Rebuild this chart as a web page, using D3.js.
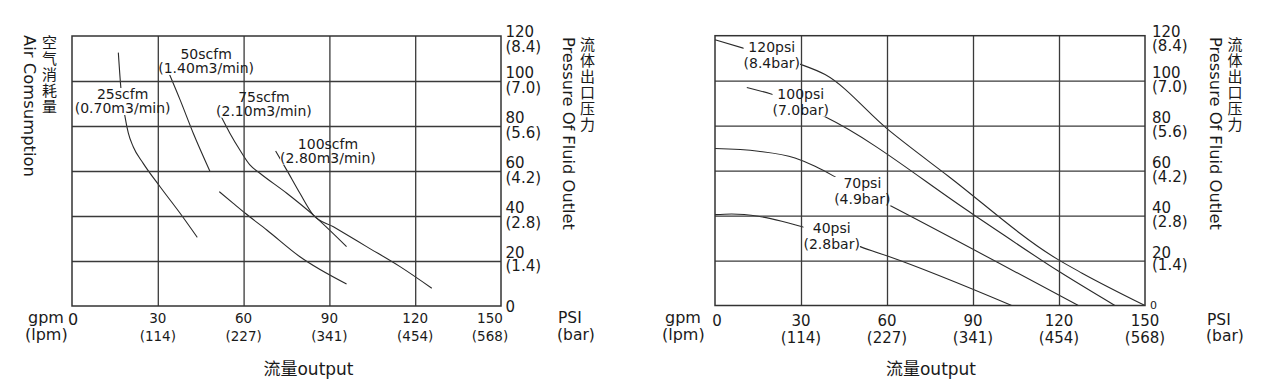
<!DOCTYPE html>
<html><head><meta charset="utf-8">
<script src="https://cdn.jsdelivr.net/npm/d3@7"></script>
<style>body{margin:0;background:#fff}svg{display:block}</style>
</head><body>
<svg id="c" width="1272" height="383"></svg>
<script>
// ---------- data ----------
const flowTicks = [0, 30, 60, 90, 120, 150];
const flowTickLpm = ["", "(114)", "(227)", "(341)", "(454)", "(568)"];
const pressureTicks = [0, 20, 40, 60, 80, 100, 120];
const pressureTickBar = ["", "(1.4)", "(2.8)", "(4.2)", "(5.6)", "(7.0)", "(8.4)"];

// Left chart: air consumption curves, [flow gpm, pressure psi]
const air25scfm = [[16.2,112.6],[17.1,96.8],[18.5,84.4],[19.7,76.8],[21.4,70.8],[24.9,63.4],[30.8,53.0],[37.8,41.2],[43.8,30.5]];
const air50scfm = [[33.7,104.1],[37.8,91.6],[42.4,76.8],[48.3,59.7]];
const air50scfmLower = [[51.5,50.8],[56.4,45.6],[60.6,41.2],[68.1,33.8],[79.7,21.9],[96.0,9.8]];
const air75scfm = [[51.7,85.3],[55.2,76.8],[58.7,69.3],[62.2,62.7],[65.7,59.0],[75.1,50.1],[84.4,40.4],[96.0,26.4]];
const air100scfm = [[71.2,68.9],[75.1,60.4],[79.7,50.1],[84.4,40.4],[91.4,35.2],[103.0,26.4],[114.7,17.5],[125.8,7.9]];
const airLabelMain = ["25scfm", "50scfm", "75scfm", "100scfm"];
const airLabelSub = ["(0.70m3/min)", "(1.40m3/min)", "(2.10m3/min)", "(2.80m3/min)"];
const airLabelAt = [[17.7,92.0],[46.9,109.8],[67.1,90.8],[89.5,69.8]];

// Right chart: air inlet pressure curves, [flow gpm, pressure psi]
const psi120 = [[0,118.2],[11.6,113.8],[29.1,107.6],[38.4,102.7],[60.4,78.2],[81.4,57.5],[119.7,20.4],[127.9,14.5],[150,0]];
const psi100 = [[11.1,97.0],[22.1,93.0],[38.4,83.9],[90.2,40.4],[119.9,15.2],[139.5,0]];
const psi70 = [[0,69.8],[15.1,68.6],[27.9,65.6],[34.9,61.9],[44.8,55.2],[60.4,44.9],[126.7,0]];
const psi40 = [[0,40.4],[5.8,40.7],[15.1,39.7],[23.3,37.5],[33.7,33.8],[50.0,26.4],[60.4,21.9],[103.5,0]];
const psiLabelMain = ["120psi", "100psi", "70psi", "40psi"];
const psiLabelSub = ["(8.4bar)", "(7.0bar)", "(4.9bar)", "(2.8bar)"];
const psiLabelAt = [[19.8,112.8],[29.9,92.0],[51.4,52.3],[40.7,32.3]];

const flowTitle = "流量output";
const airTitleEn = "Air Comsumption", airTitleZh = "空气消耗量";
const presTitleEn = "Pressure Of Fluid Outlet", presTitleZh = "流体出口压力";

// ---------- drawing ----------
const svg = d3.select("#c");
const FONT = "'DejaVu Sans', 'Noto Sans CJK SC', sans-serif";
const CJK = "'Noto Sans CJK SC', sans-serif";
const INK = "#1a1a1a";

function twoLine(parent, px, py, gap, a, b, size, anchor, dx2) {
  const t = parent.append("text").attr("font-family", FONT).attr("font-size", size)
    .attr("fill", INK).attr("text-anchor", anchor || "start");
  t.append("tspan").attr("x", px).attr("y", py).text(a);
  if (b) t.append("tspan").attr("x", px + (dx2 || 0)).attr("y", py + gap).text(b);
  return t;
}

function drawChart(opt) {
  const x = d3.scaleLinear().domain([0, 150]).range(opt.xr);
  const y = d3.scaleLinear().domain([0, 120]).range(opt.yr);
  const g = svg.append("g");
  const line = d3.line().x(d => x(d[0])).y(d => y(d[1])).curve(d3.curveMonotoneX);

  const curveG = g.append("g");
  opt.curves.forEach(c => {
    curveG.append("path").attr("d", line(c)).attr("fill", "none")
      .attr("stroke", "#2a2a2a").attr("stroke-width", 1.1);
  });

  const bgG = g.append("g");
  const gridG = g.append("g");
  const labG = g.append("g");
  opt.labelMain.forEach((t, i) => {
    const [lx, ly] = opt.labelAt[i];
    const tx = twoLine(labG, x(lx), y(ly), opt.labelGap, t, opt.labelSub[i], opt.labelSize, "middle");
    const bb = tx.node().getBBox();
    bgG.append("rect").attr("x", bb.x).attr("y", bb.y + 2).attr("width", bb.width)
      .attr("height", bb.height - 3).attr("fill", "#fff");
  });

  const h = opt.yr[0] - opt.yr[1], w = opt.xr[1] - opt.xr[0];
  const gx = gridG.append("g").attr("transform", `translate(0,${opt.yr[0]})`)
    .call(d3.axisBottom(x).tickValues(flowTicks.slice(1, -1)).tickSize(-h).tickFormat(""));
  const gy = gridG.append("g").attr("transform", `translate(${opt.xr[0]},0)`)
    .call(d3.axisLeft(y).tickValues(pressureTicks.slice(1, -1)).tickSize(-w).tickFormat(""));
  [gx, gy].forEach(a => {
    a.select(".domain").remove();
    a.selectAll("line").attr("stroke", "#3a3a3a").attr("stroke-width", 1.3);
  });
  gridG.append("rect").attr("x", opt.xr[0]).attr("y", opt.yr[1]).attr("width", w).attr("height", h)
    .attr("fill", "none").attr("stroke", "#333").attr("stroke-width", 1.5);

  // bottom tick labels
  flowTicks.forEach((v, i) => {
    if (v === 0) {
      g.append("text").attr("x", x(0) + opt.zeroDx).attr("y", opt.zeroBaseline)
        .attr("font-family", FONT).attr("font-size", opt.zeroSize).attr("fill", INK)
        .attr("text-anchor", "middle").text("0");
      return;
    }
    const cx = x(v) + (v === 150 ? opt.lastShift : 0);
    twoLine(g, cx, opt.tickBase, opt.tickGap, String(v), flowTickLpm[i], opt.tickSize, "middle");
  });

  // right tick labels
  pressureTicks.forEach((v, i) => {
    const ax = x(150) + opt.rightDx;
    if (v === 0) {
      g.append("text").attr("x", ax + opt.rzDx).attr("y", opt.rzBase).attr("font-family", FONT)
        .attr("font-size", opt.rzSize).attr("fill", INK).text("0");
      return;
    }
    const base = y(v) + (v === 120 ? 1 : -3);
    twoLine(g, ax, base, v === 20 ? 12.5 : 14.5, String(v), pressureTickBar[i], 15);
  });

  // unit captions
  twoLine(g, opt.gpm[0], opt.gpm[1], opt.gpm[2], "gpm", "(lpm)", 16, "start", -3);
  twoLine(g, opt.psi[0], opt.psi[1], opt.psi[2], "PSI", "(bar)", 15.5, "start", -1);

  g.append("text").attr("x", opt.titleX).attr("y", 375).attr("text-anchor", "middle")
    .attr("font-family", FONT).attr("font-size", 17).attr("fill", INK).text(flowTitle);

  const vEn = (tx, px, py, len) => g.append("text")
    .attr("transform", `translate(${px},${py}) rotate(90)`)
    .attr("font-family", FONT).attr("font-size", 16).attr("fill", INK)
    .attr("textLength", len).attr("lengthAdjust", "spacingAndGlyphs").text(tx);
  const vZh = (tx, cx, top) => g.append("text").attr("x", cx).attr("y", top)
    .style("writing-mode", "vertical-rl").style("text-orientation", "upright")
    .attr("letter-spacing", 1)
    .attr("font-family", CJK).attr("font-size", 15).attr("fill", INK).text(tx);
  vEn(presTitleEn, opt.presEnX, 37, 193);
  vZh(presTitleZh, opt.presZhX, 37);
  if (opt.airTitle) {
    vEn(airTitleEn, 24, 35, 142);
    vZh(airTitleZh, 49.5, 35);
  }
}

drawChart({
  xr: [72, 501], yr: [306, 36],
  curves: [air25scfm, air50scfm, air50scfmLower, air75scfm, air100scfm],
  labelMain: airLabelMain, labelSub: airLabelSub, labelAt: airLabelAt, labelSize: 14, labelGap: 14,
  zeroDx: 1, zeroBaseline: 325, zeroSize: 16,
  tickBase: 323.3, tickGap: 17.7, tickSize: 13.5, lastShift: -11,
  rightDx: 4.5, rzDx: 0, rzBase: 311.5, rzSize: 15,
  gpm: [28, 322.5, 17], psi: [558, 323.3, 16.2],
  titleX: 308.5, presEnX: 563, presZhX: 587.5, airTitle: true
});
drawChart({
  xr: [715, 1145], yr: [305.5, 35.7],
  curves: [psi120, psi100, psi70, psi40],
  labelMain: psiLabelMain, labelSub: psiLabelSub, labelAt: psiLabelAt, labelSize: 14, labelGap: 16,
  zeroDx: 2, zeroBaseline: 325.5, zeroSize: 15,
  tickBase: 325.7, tickGap: 17, tickSize: 15, lastShift: 0,
  rightDx: 7, rzDx: -2, rzBase: 309, rzSize: 11,
  gpm: [665, 322.5, 17.5], psi: [1207, 325, 16],
  titleX: 931, presEnX: 1210, presZhX: 1235, airTitle: false
});
</script>
</body></html>
